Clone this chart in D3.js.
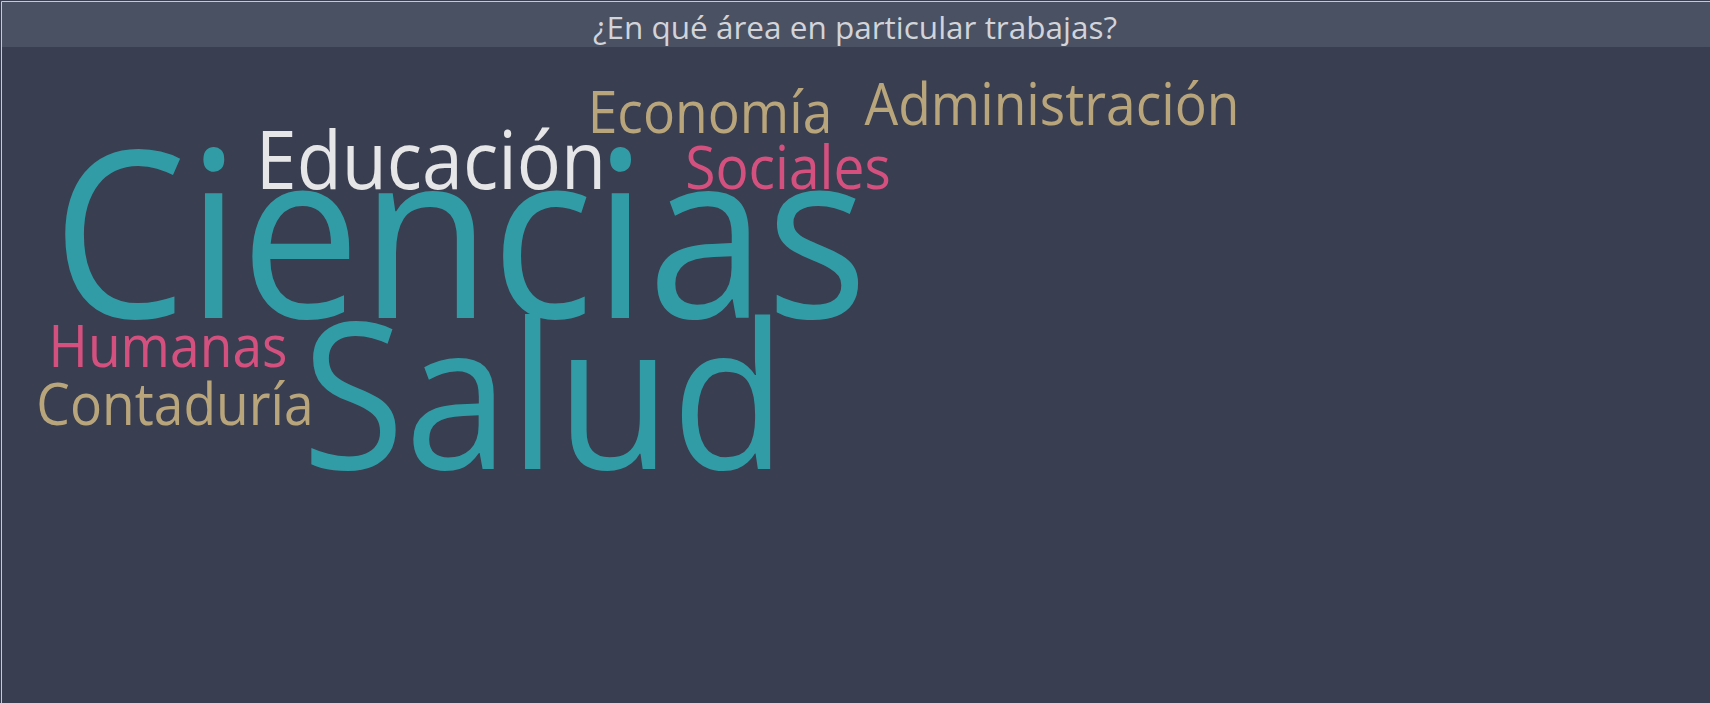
<!DOCTYPE html>
<html>
<head>
<meta charset="utf-8">
<script src="https://cdn.jsdelivr.net/npm/d3@7"></script>
<style>
  body { margin: 0; background: #ffffff; overflow: hidden; }
  text { font-family: "Segoe UI", "Open Sans", "Noto Sans", sans-serif; }
</style>
</head>
<body>
<svg id="cloud"></svg>
<script>
// word cloud data
var words  = ["Ciencias", "Salud", "Educación", "Sociales", "Economía", "Administración", "Humanas", "Contaduría"];
var counts = [117, 103, 41, 31, 30, 30, 30, 30];
var groups = ["teal", "teal", "white", "pink", "tan", "tan", "pink", "tan"];

// where the cloud layout placed each word (offset from the cloud centre, baseline)
var layoutX = [-180, -96, -209, 148, 70, 412, -472, -465];
var layoutY = [18, 169, -111, -111, -167, -175, 67, 125];

var title = "¿En qué área en particular trabajas?";

var width = 1710,
    height = 703,
    barH = 45;

var color = d3.scaleOrdinal()
  .domain(["teal", "white", "pink", "tan"])
  .range(["#319ca6", "#e6e6e8", "#d4517f", "#b9a57b"]);

var size = d3.scaleLinear()
  .domain(d3.extent(counts))
  .range([58, 232]);

// cloud frame -> page
var x = d3.scaleLinear().domain([-640, 640]).range([0, 1280]);
var y = d3.scaleLinear().domain([-300, 300]).range([0, 600]);

var svg = d3.select("#cloud")
    .attr("width", width)
    .attr("height", height);

svg.append("rect")
  .attr("width", width).attr("height", height)
  .attr("fill", "#393e50");

svg.append("rect")
  .attr("x", 2).attr("y", 2)
  .attr("width", width).attr("height", barH)
  .attr("fill", "#4a5162");

// thin frame line top and left
svg.append("path")
  .attr("d", "M1.5," + height + "V1.5H" + width)
  .attr("fill", "none")
  .attr("stroke", "#c3cbdb")
  .attr("stroke-width", 1);

svg.append("text")
  .attr("x", width / 2)
  .attr("y", 39)
  .attr("text-anchor", "middle")
  .attr("fill", "#d2d4d9")
  .style("font-size", "31.5px")
  .text(title);

var data = words.map(function(w, i) {
  return {text: w, count: counts[i], group: groups[i], x: layoutX[i], y: layoutY[i]};
});

svg.append("g")
  .selectAll("text")
  .data(data)
  .enter()
  .append("text")
    .attr("text-anchor", "middle")
    .attr("transform", function(d) {
      return "translate(" + x(d.x) + "," + y(d.y) + ") scale(0.92,1)";
    })
    .style("font-size", function(d) { return size(d.count) + "px"; })
    .attr("fill", function(d) { return color(d.group); })
    .text(function(d) { return d.text; });
</script>
</body>
</html>
